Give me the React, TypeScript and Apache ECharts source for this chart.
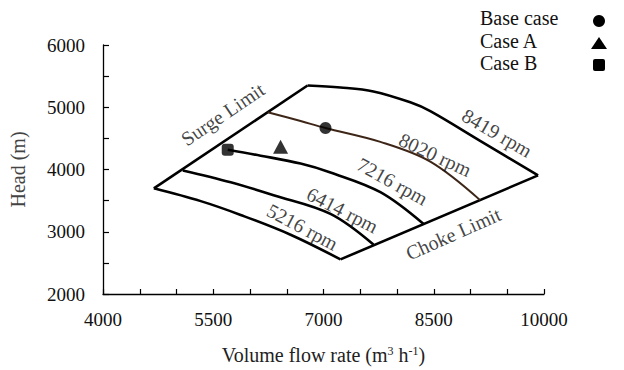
import React, { useEffect, useRef } from "react";
import * as echarts from "echarts";

const FONT = "'Liberation Serif', 'Times New Roman', serif";

// Axis tick labels shown
const xLabelValues = [4000, 5500, 7000, 8500, 10000];
const yLabelValues = [2000, 3000, 4000, 5000, 6000];

// Speed lines (volume flow rate m3/h, head m)
const speed5216: number[][] = [[4692, 3698], [5330, 3492], [5873, 3270], [6552, 2952], [7231, 2556]];
const speed6414: number[][] = [[5086, 3984], [5738, 3794], [6321, 3587], [7095, 3286], [7679, 2794]];
const speed7216: number[][] = [[5697, 4317], [6145, 4222], [6688, 4095], [7095, 3952], [7774, 3635], [8358, 3127]];
const speed8020: number[][] = [[6240, 4921], [6688, 4778], [7027, 4667], [7774, 4444], [8453, 4127], [9131, 3508]];
const speed8419: number[][] = [[6783, 5349], [7231, 5317], [7679, 5254], [8181, 5079], [8453, 4937], [9131, 4460], [9919, 3905]];
const surgeLimit: number[][] = [[4692, 3698], [6783, 5349]];
const chokeLimit: number[][] = [[7231, 2556], [9919, 3905]];

// Operating points
const baseCase: number[][] = [[7027, 4667]];
const caseA: number[][] = [[6416, 4365]];
const caseB: number[][] = [[5697, 4317]];

// Curve annotations: text, position, rotation
const annotationText = ["Surge Limit", "8419 rpm", "8020 rpm", "7216 rpm", "6414 rpm", "5216 rpm", "Choke Limit"];
const annotationPos: number[][] = [[5629, 4889], [9362, 4587], [8520, 4238], [7937, 3810], [7258, 3349], [6715, 3079], [8765, 2968]];
const annotationRotate = [34, -30, -25, -29, -27, -28, 24];

const legendNames = ["Base case", "Case A", "Case B"];

export default function App() {
  const ref = useRef<HTMLDivElement>(null);

  useEffect(() => {
    if (!ref.current) return;
    const chart = echarts.init(ref.current, undefined, { renderer: "svg" });

    const lineSeries = (data: number[][], smooth: number | boolean, color = "#000", width = 2.6) => ({
      type: "line",
      data,
      smooth,
      symbol: "none",
      lineStyle: { color, width },
      silent: true,
      z: 2,
    });

    const markerSeries = (name: string, data: number[][], symbol: string, size: any) => ({
      type: "scatter",
      name,
      data,
      symbol,
      symbolSize: size,
      itemStyle: { color: "#000" },
      z: 5,
    });

    const option: any = {
      animation: false,
      backgroundColor: "#fff",
      grid: { left: 102, right: 80, top: 45, bottom: 73, containLabel: false },
      xAxis: {
        type: "value",
        min: 4000,
        max: 10000,
        interval: 500,
        name: "{a|Volume flow rate (m}{s|3}{a| h}{s|-1}{a|)}",
        nameLocation: "middle",
        nameGap: 51,
        nameTextStyle: {
          fontFamily: FONT,
          fontSize: 20,
          color: "#222",
          rich: {
            a: { fontFamily: FONT, fontSize: 20, color: "#222" },
            s: { fontFamily: FONT, fontSize: 12, color: "#222", verticalAlign: "top" },
          },
        },
        axisLine: { show: true, lineStyle: { color: "#000", width: 1.3 } },
        axisTick: { show: true, inside: true, length: 5, lineStyle: { color: "#000", width: 1.2 } },
        axisLabel: {
          margin: 16,
          fontFamily: FONT,
          fontSize: 19,
          color: "#111",
          formatter: (v: number) => (xLabelValues.includes(v) ? String(v) : ""),
        },
        splitLine: { show: false },
      },
      yAxis: {
        type: "value",
        min: 2000,
        max: 6000,
        interval: 500,
        name: "Head (m)",
        nameLocation: "middle",
        nameGap: 75,
        nameTextStyle: { fontFamily: FONT, fontSize: 20, color: "#444" },
        axisLine: { show: true, lineStyle: { color: "#000", width: 1.3 } },
        axisTick: { show: true, inside: true, length: 6, lineStyle: { color: "#000", width: 1.2 } },
        axisLabel: {
          margin: 18,
          fontFamily: FONT,
          fontSize: 19,
          color: "#111",
          formatter: (v: number) => (yLabelValues.includes(v) ? String(v) : ""),
        },
        splitLine: { show: false },
      },
      series: [
        lineSeries(surgeLimit, false),
        lineSeries(chokeLimit, false),
        lineSeries(speed5216, 0.35),
        lineSeries(speed6414, 0.35),
        lineSeries(speed7216, 0.35),
        lineSeries(speed8020, 0.35, "#3d2617", 2),
        lineSeries(speed8419, 0.35),
        markerSeries(legendNames[0], baseCase, "circle", 12),
        markerSeries(legendNames[1], caseA, "triangle", [15, 14]),
        markerSeries(legendNames[2], caseB, "roundRect", 12),
        {
          type: "scatter",
          name: "annotations",
          symbol: "circle",
          symbolSize: 1,
          itemStyle: { color: "rgba(0,0,0,0)" },
          silent: true,
          z: 6,
          data: annotationText.map((t, i) => ({
            value: annotationPos[i],
            label: {
              show: true,
              position: "inside",
              formatter: t,
              rotate: annotationRotate[i],
              fontFamily: FONT,
              fontSize: 20,
              color: "#111",
              align: "center",
              verticalAlign: "middle",
            },
          })),
        },
      ],
      graphic: [
        { type: "text", left: 480, top: 8, style: { text: legendNames[0], fontFamily: FONT, fontSize: 20, fill: "#111" } },
        { type: "text", left: 480, top: 31, style: { text: legendNames[1], fontFamily: FONT, fontSize: 20, fill: "#111" } },
        { type: "text", left: 480, top: 53, style: { text: legendNames[2], fontFamily: FONT, fontSize: 20, fill: "#111" } },
        { type: "circle", shape: { cx: 599, cy: 21, r: 6 }, style: { fill: "#000" } },
        { type: "polygon", shape: { points: [[599, 37], [607, 49], [591, 49]] }, style: { fill: "#000" } },
        { type: "rect", shape: { x: 593, y: 59, width: 12, height: 12, r: 2 }, style: { fill: "#000" } },
      ],
    };

    chart.setOption(option);
    return () => chart.dispose();
  }, []);

  return (
    <div
      ref={ref}
      style={{ position: "fixed", left: 0, top: 0, width: 624, height: 370, background: "#fff" }}
    />
  );
}
